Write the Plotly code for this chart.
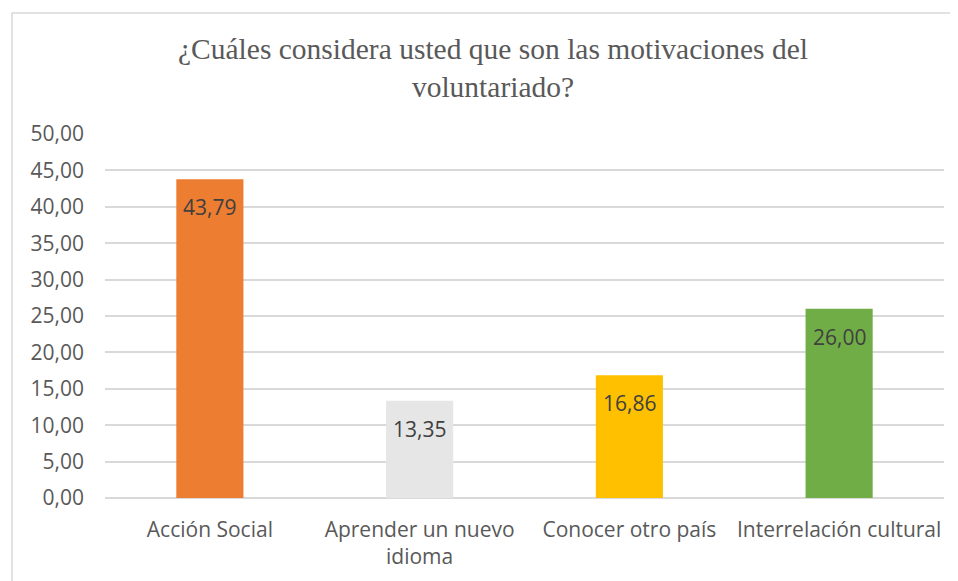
import plotly.graph_objects as go

categories = ["Acción Social", "Aprender un nuevo<br>idioma", "Conocer otro país", "Interrelación cultural"]
values = [43.79, 13.35, 16.86, 26.00]
colors = ["#ED7D31", "#E7E6E6", "#FFC000", "#70AD47"]
title_text = "¿Cuáles considera usted que son las motivaciones del<br>voluntariado?"
y_ticks = [0, 5, 10, 15, 20, 25, 30, 35, 40, 45, 50]

W, H = 958, 581
ML, MR, MT, MB = 97, 22, 126, 91
PW, PH = W - ML - MR, H - MT - MB
sans = "Open Sans"
serif = "Liberation Serif, Times New Roman, DejaVu Serif, serif"

fig = go.Figure()
fig.add_trace(go.Bar(
    x=categories, y=values, marker=dict(color=colors, line=dict(width=0)),
    width=0.32, hoverinfo="skip",
))

for c, v in zip(categories, values):
    fig.add_annotation(
        x=c, y=v, xref="x", yref="y",
        text=f"{v:.2f}".replace(".", ","),
        showarrow=False, yanchor="middle", yshift=-28,
        font=dict(family=sans, size=21, color="#404040"),
    )

fig.add_shape(
    type="rect", xref="paper", yref="paper",
    x0=(4 - ML) / PW, x1=1.3, y0=-0.6, y1=(MT + PH - 5) / PH,
    line=dict(color="#D9D9D9", width=1.5), fillcolor="rgba(0,0,0,0)", layer="below",
)

fig.update_layout(
    width=W, height=H,
    margin=dict(l=ML, r=MR, t=MT, b=MB, pad=0),
    paper_bgcolor="white", plot_bgcolor="white",
    separators=",.",
    showlegend=False,
    title=dict(
        text=title_text, x=485 / W, xanchor="center", xref="container",
        y=1 - 51 / H, yanchor="top", yref="container",
        font=dict(family=serif, size=29.5, color="#595959"),
    ),
    xaxis=dict(
        tickfont=dict(family=sans, size=21, color="#595959"),
        tickangle=0, showgrid=False, showline=False, ticks="",
        ticklabelstandoff=17,
    ),
    yaxis=dict(
        range=[0, 50], tickvals=y_ticks, tickformat=".2f",
        tickfont=dict(family=sans, size=21, color="#595959"),
        showgrid=True, gridcolor="#D9D9D9", gridwidth=1.5,
        zeroline=True, zerolinecolor="#D9D9D9", zerolinewidth=1.5,
        showline=False, ticks="", ticklabelstandoff=20,
    ),
)

fig.write_html("out.html")
